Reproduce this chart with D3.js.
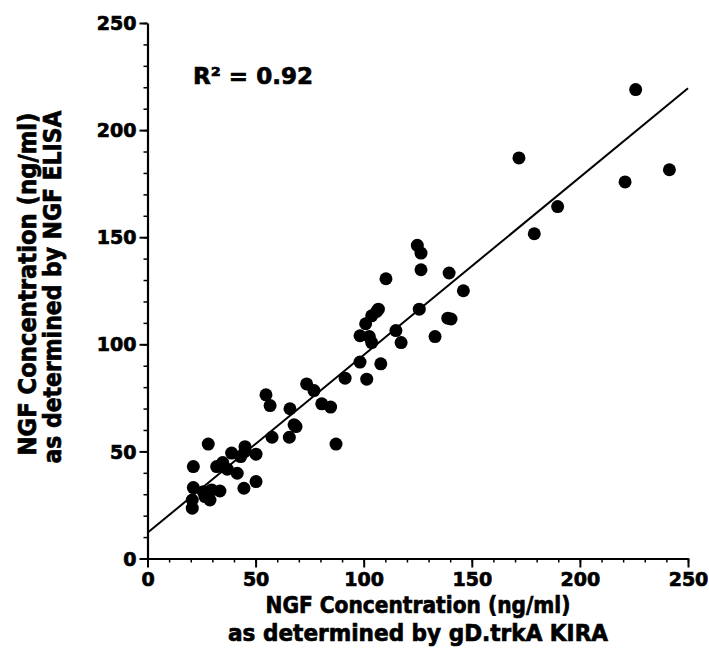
<!DOCTYPE html>
<html>
<head>
<meta charset="utf-8">
<script src="https://cdn.jsdelivr.net/npm/d3@7"></script>
<style>
  html, body { margin: 0; padding: 0; background: #fff; }
  svg { display: block; }
  text { font-family: "DejaVu Sans", sans-serif; font-weight: bold; fill: #000; stroke: #000; stroke-width: 0.7px; }
</style>
</head>
<body>
<svg id="chart" width="709" height="654"></svg>
<script>
// ---- data ----
const kiraValues = [
  21.2, 28.1, 21.2, 20.7, 20.7, 25.8, 26.6, 28.9, 29.7, 33.5,
  32.0, 34.8, 36.9, 38.9, 41.5, 43.1, 45.1, 45.1, 50.2, 44.6,
  50.2, 57.6, 65.6, 54.8, 56.7, 65.9, 67.8, 68.7, 73.6, 77.0,
  80.6, 84.7, 87.2, 91.4, 101.4, 98.3, 107.9, 98.3, 102.6, 103.7,
  100.9, 103.7, 106.8, 106.0, 110.3, 114.9, 117.3, 124.8, 126.5, 126.5,
  125.7, 133.0, 139.5, 138.9, 140.4, 146.1, 171.8, 189.7, 178.9, 220.9,
  225.8, 241.4
];
const elisaValues = [
  42.9, 53.4, 33.1, 27.3, 23.5, 31.2, 28.9, 27.3, 32.0, 31.5,
  42.9, 44.8, 41.7, 49.2, 39.8, 47.6, 52.2, 50.0, 48.7, 32.8,
  35.9, 56.6, 56.6, 76.4, 71.4, 69.9, 62.4, 61.6, 81.5, 78.4,
  72.2, 70.7, 53.4, 84.2, 83.7, 91.7, 90.9, 104.0, 103.6, 100.8,
  109.6, 113.3, 116.4, 115.3, 130.6, 106.4, 100.8, 146.2, 142.6, 134.8,
  116.4, 103.6, 133.3, 112.2, 111.8, 125.0, 187.0, 164.3, 151.6, 175.8,
  218.9, 181.5
];
const fitIntercept = 12;
const fitSlope = 0.83;
const majorTicks = [0, 50, 100, 150, 200, 250];
const minorTicks = d3.range(0, 251, 10);
const xTitleLines = ["NGF Concentration (ng/ml)", "as determined by gD.trkA KIRA"];
const yTitleLines = ["NGF Concentration (ng/ml)", "as determined by NGF ELISA"];
const rSquaredLabel = "R² = 0.92";

// ---- layout ----
const svg = d3.select("#chart");
const plotLeft = 147.5, plotRight = 688, plotTop = 23, plotBottom = 558.5;

const x = d3.scaleLinear().domain([0, 250]).range([plotLeft, plotRight]);
const y = d3.scaleLinear().domain([0, 250]).range([plotBottom, plotTop]);

// minor ticks
svg.append("g")
  .attr("transform", `translate(0,${plotBottom})`)
  .call(d3.axisBottom(x).tickValues(minorTicks).tickSize(4).tickFormat(""))
  .call(g => g.select(".domain").remove())
  .call(g => g.selectAll("line").attr("stroke", "#000").attr("stroke-width", 1.5));
svg.append("g")
  .attr("transform", `translate(${plotLeft},0)`)
  .call(d3.axisLeft(y).tickValues(minorTicks).tickSize(4).tickFormat(""))
  .call(g => g.select(".domain").remove())
  .call(g => g.selectAll("line").attr("stroke", "#000").attr("stroke-width", 1.5));

// major ticks with labels
const xAxis = svg.append("g")
  .attr("transform", `translate(0,${plotBottom})`)
  .call(d3.axisBottom(x).tickValues(majorTicks).tickSize(9).tickSizeOuter(0).tickPadding(5).tickFormat(d3.format("d")));
const yAxis = svg.append("g")
  .attr("transform", `translate(${plotLeft},0)`)
  .call(d3.axisLeft(y).tickValues(majorTicks).tickSize(8).tickSizeOuter(0).tickPadding(3).tickFormat(d3.format("d")));

[xAxis, yAxis].forEach(g => {
  g.select(".domain").attr("stroke", "#000").attr("stroke-width", 2.2);
  g.selectAll(".tick line").attr("stroke", "#000").attr("stroke-width", 2);
  g.selectAll(".tick text")
    .style("font-family", "'DejaVu Sans', sans-serif")
    .style("font-weight", "bold")
    .style("font-size", "19px")
    .style("stroke", "#000")
    .style("stroke-width", "0.7px")
    .attr("fill", "#000");
});
yAxis.selectAll(".tick text").attr("dy", "0.35em");

// regression line
svg.append("line")
  .attr("x1", x(0)).attr("y1", y(fitIntercept))
  .attr("x2", x(250)).attr("y2", y(fitIntercept + fitSlope * 250))
  .attr("stroke", "#000").attr("stroke-width", 2);

// points
svg.append("g").selectAll("circle")
  .data(kiraValues.map((k, i) => [k, elisaValues[i]]))
  .join("circle")
  .attr("cx", d => x(d[0]))
  .attr("cy", d => y(d[1]))
  .attr("r", 6.5)
  .attr("fill", "#000");

// R² label
svg.append("text")
  .attr("x", 193).attr("y", 84)
  .style("font-size", "23px")
  .attr("textLength", 120)
  .attr("lengthAdjust", "spacingAndGlyphs")
  .text(rSquaredLabel);

// x title
svg.append("text")
  .attr("x", 418).attr("y", 613)
  .attr("text-anchor", "middle")
  .style("font-size", "23px")
  .attr("textLength", 305)
  .attr("lengthAdjust", "spacingAndGlyphs")
  .text(xTitleLines[0]);
svg.append("text")
  .attr("x", 418).attr("y", 641)
  .attr("text-anchor", "middle")
  .style("font-size", "23px")
  .attr("textLength", 380)
  .attr("lengthAdjust", "spacingAndGlyphs")
  .text(xTitleLines[1]);

// y title
svg.append("text")
  .attr("transform", "translate(36,284) rotate(-90)")
  .attr("text-anchor", "middle")
  .style("font-size", "24px")
  .attr("textLength", 343)
  .attr("lengthAdjust", "spacingAndGlyphs")
  .text(yTitleLines[0]);
svg.append("text")
  .attr("transform", "translate(61,287) rotate(-90)")
  .attr("text-anchor", "middle")
  .style("font-size", "24px")
  .attr("textLength", 353)
  .attr("lengthAdjust", "spacingAndGlyphs")
  .text(yTitleLines[1]);
</script>
</body>
</html>
